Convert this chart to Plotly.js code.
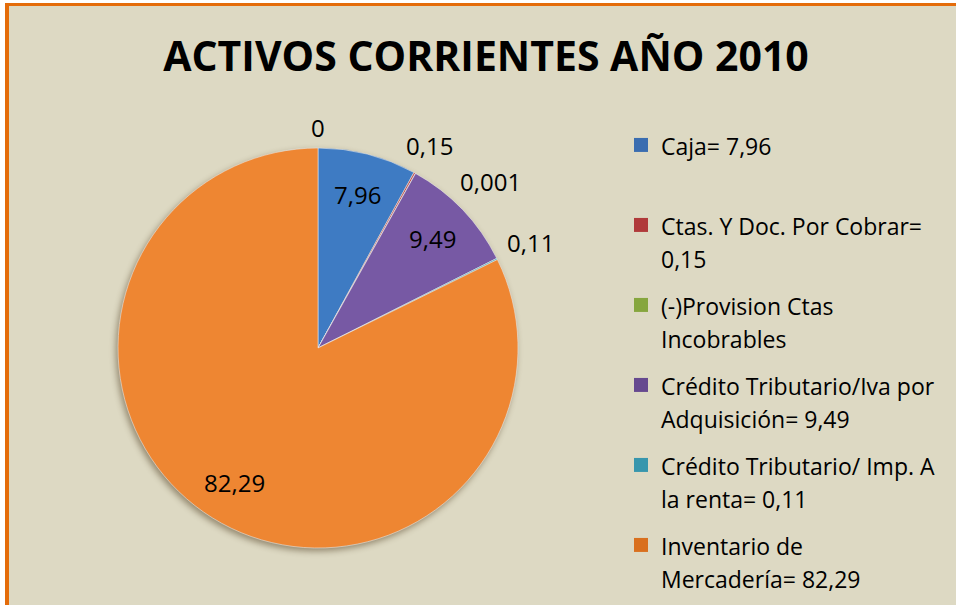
<!DOCTYPE html>
<html>
<head>
<meta charset="utf-8">
<script src="https://cdn.plot.ly/plotly-3.0.1.min.js"></script>
<style>
  html, body { margin: 0; padding: 0; background: #ffffff; width: 956px; height: 605px; overflow: hidden; }
  #frame { position: absolute; left: 5px; top: 3px; width: 947px; height: 599px;
           border-left: 4px solid #e46c0a; border-top: 3px solid #e46c0a; background: #ddd9c3; }
  #chart { width: 947px; height: 599px; }
  .pielayer { filter: drop-shadow(-2px 3px 3px rgba(60,40,10,0.45)); }
</style>
</head>
<body>
<div id="frame"><div id="chart"></div></div>
<script>
// ---- data ----
var categories = [
  "Caja",
  "Ctas. Y Doc. Por Cobrar",
  "(-)Provision Ctas Incobrables",
  "Crédito Tributario/Iva por Adquisición",
  "Crédito Tributario/ Imp. A la renta",
  "Inventario de Mercadería"
];
var values = [7.96, 0.15, 0.001, 9.49, 0.11, 82.29];
var legendLabels = [
  "Caja= 7,96",
  "Ctas. Y Doc. Por Cobrar=<br>0,15",
  "(-)Provision Ctas<br>Incobrables",
  "Crédito Tributario/Iva por<br>Adquisición= 9,49",
  "Crédito Tributario/ Imp. A<br>la renta= 0,11",
  "Inventario de<br>Mercadería= 82,29"
];
var trailingValue = 0;   // extra data label shown at the start of the pie (value 0)
var colors = ["#3e7bc3", "#c0504d", "#9bbb59", "#7759a4", "#4bacc6", "#ee8632"];
var legendSymbolColors = ["#3a6db0", "#b03a3a", "#86a63e", "#66498f", "#3796ad", "#d9701e"];
var titleText = "ACTIVOS CORRIENTES AÑO 2010";

// ---- build ----
var W = 947, H = 599;
function fmt(v) { return String(v).replace(".", ","); }
var FONT = "'Open Sans', Carlito, Lato, sans-serif";
var LEG_BASE = 25.3, LEG_SIZE = 23, LBL_SIZE = 24;
var ITEM_PITCH = 80;

var dom = { x: [109 / W, 509 / W], y: [57 / H, 457 / H] };

var pie = {
  type: "pie",
  labels: categories,
  values: values,
  textinfo: "none",
  sort: false,
  direction: "clockwise",
  rotation: 0,
  showlegend: false,
  marker: { colors: colors, line: { color: "rgba(235,235,235,0.55)", width: 1 } },
  domain: dom,
  hoverinfo: "label+value"
};

// legend entries (one per slice), text wrapped to two lines each
var lineH = LEG_BASE * 1.3;
var legendTraces = legendLabels.map(function (t, i) {
  var lines = t.split("<br>");
  while (lines.length < 2) lines.push(" ");
  return {
    type: "scatter", mode: "markers", x: [null], y: [null],
    name: lines.map(function (l) { return '<span style="font-size:' + LEG_SIZE + 'px">' + l + '</span>'; }).join("<br>"),
    legendgroup: "g" + i, showlegend: true, hoverinfo: "skip",
    marker: { symbol: "square", size: 14, color: legendSymbolColors[i], line: { width: 0 } }
  };
});

// ---- data labels, placed from the slice angles ----
var allVals = values.concat([trailingValue]);
var total = allVals.reduce(function (a, b) { return a + b; }, 0);
var cxPx = W * (dom.x[0] + dom.x[1]) / 2;
var cyPx = H * (1 - dom.y[0]) - H * (dom.y[1] - dom.y[0]) / 2;
var rPx = Math.min(W * (dom.x[1] - dom.x[0]), H * (dom.y[1] - dom.y[0])) / 2;

var annotations = [];
var cum = 0, lastOut = -1e9, MIN_SEP = 17, GAP = 8;
allVals.forEach(function (v) {
  var a0 = cum / total * 360; cum += v;
  var a1 = cum / total * 360;
  var mid = (a0 + a1) / 2;
  var txt = fmt(v);
  var R, th;
  if (v / total >= 0.05) {
    th = mid; R = 0.79 * rPx;
  } else {
    th = Math.max(mid, lastOut + MIN_SEP); lastOut = th;
    var t = th * Math.PI / 180;
    var halfW = 0.55 * LBL_SIZE * txt.length / 2, halfH = LBL_SIZE / 2;
    R = rPx + GAP + Math.abs(Math.sin(t)) * halfW + Math.abs(Math.cos(t)) * halfH;
  }
  var tr = th * Math.PI / 180;
  var px = cxPx + R * Math.sin(tr), py = cyPx - R * Math.cos(tr);
  annotations.push({
    xref: "paper", yref: "paper", x: px / W, y: 1 - py / H,
    xanchor: "center", yanchor: "middle",
    text: txt, showarrow: false,
    font: { family: FONT, size: LBL_SIZE, color: "#000000" }
  });
});

var layout = {
  width: W, height: H,
  margin: { l: 0, r: 0, t: 0, b: 0, autoexpand: false },
  paper_bgcolor: "#ddd9c3",
  plot_bgcolor: "rgba(0,0,0,0)",
  xaxis: { visible: false, domain: [0.99, 1] },
  yaxis: { visible: false, domain: [0.99, 1] },
  title: {
    text: titleText,
    font: { family: FONT, size: 41, color: "#000000", weight: "bold" },
    x: 477 / W, xanchor: "center",
    y: 1 - 51 / H, yanchor: "middle"
  },
  showlegend: true,
  legend: {
    x: 612 / W, xanchor: "left",
    y: 1 - 116 / H, yanchor: "top",
    traceorder: "grouped",
    tracegroupgap: ITEM_PITCH - (2 * lineH + 3),
    valign: "top",
    font: { family: FONT, size: LEG_BASE, color: "#000000" },
    bgcolor: "rgba(0,0,0,0)",
    itemclick: false, itemdoubleclick: false
  },
  annotations: annotations
};

Plotly.newPlot("chart", [pie].concat(legendTraces), layout, { displayModeBar: false, staticPlot: true });
</script>
</body>
</html>
